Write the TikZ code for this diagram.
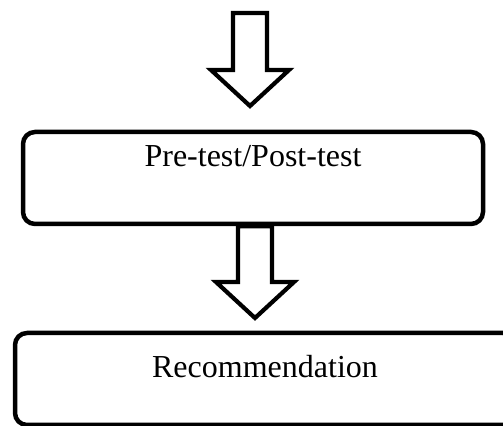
\documentclass[tikz,border=0pt]{standalone}
\usepackage{fontspec}
\setmainfont{Liberation Serif}
\usetikzlibrary{calc}
\tikzset{
  stagebox/.style={draw, line width=2.25pt, rounded corners=6pt, inner sep=0pt,
    font=\fontsize{16}{19}\selectfont},
  arrowline/.style={draw, fill=white, line width=2.1pt, line join=miter}
}
% hollow block arrow, shaft from #1 down to tip #2
\newcommand{\blockarrow}[2]{%
  \draw[arrowline] let \p1=(#1), \p2=(#2) in
    (\x2-8.5pt,\y1) -- (\x2-8.5pt,\y2+18pt) -- (\x2-19.5pt,\y2+18pt) -- (\x2,\y2)
    -- (\x2+19.5pt,\y2+18pt) -- (\x2+8.5pt,\y2+18pt) -- (\x2+8.5pt,\y1) -- cycle;}
\begin{document}
\begin{tikzpicture}[x=0.5pt,y=-0.5pt]
\useasboundingbox (0,0) rectangle (503,426);
\clip (0,0) rectangle (503,426);
\node[stagebox, minimum width=230pt, text height=17.5pt, text depth=28.5pt] (test) at (253,178) {Pre-test/Post-test};
\node[stagebox, minimum width=250pt, text height=22.5pt, text depth=23.5pt] (recom) at (265,379) {Recommendation};
\coordinate (in) at (250,13);
\coordinate (tipA) at (250,106);
\coordinate (tipB) at (255,318);
\blockarrow{in}{tipA}
\blockarrow{test.south}{tipB}
\end{tikzpicture}
\end{document}
